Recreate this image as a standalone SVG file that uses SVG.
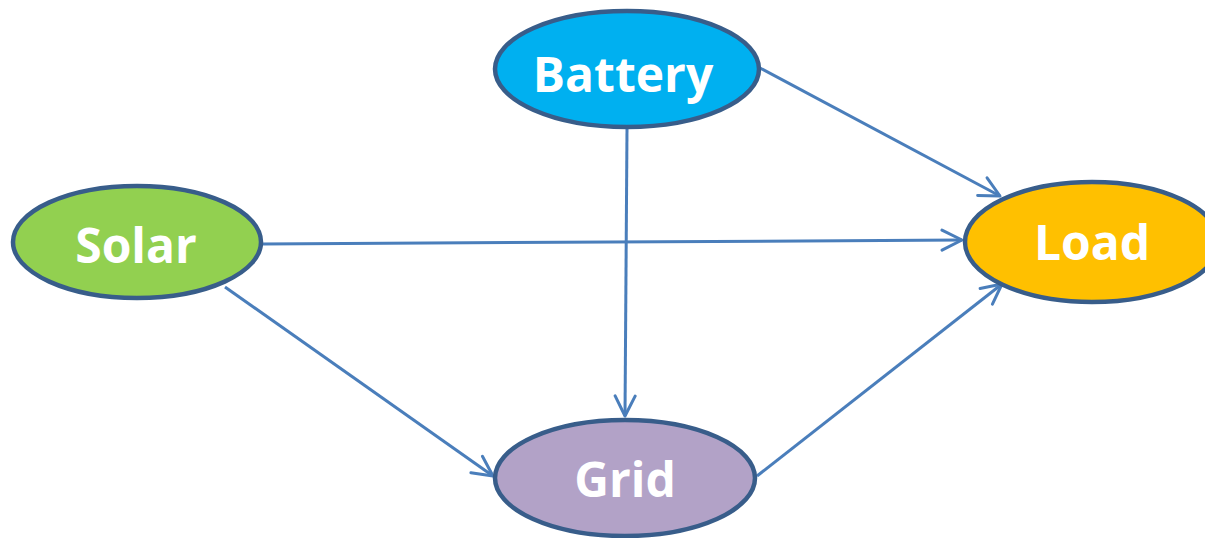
<svg xmlns="http://www.w3.org/2000/svg" width="1205" height="538" viewBox="0 0 1205 538">
<style>
.node{stroke:#385d8a;stroke-width:4.5}
.lbl{font-family:"Open Sans","Noto Sans",sans-serif;font-weight:bold;font-size:48px;fill:#ffffff;text-anchor:middle}
.conn{stroke:#4a7ebb;stroke-width:3;fill:none}
</style>
<defs>
<marker id="arr" viewBox="0 0 24 24" refX="22" refY="12" markerWidth="24" markerHeight="24" markerUnits="userSpaceOnUse" orient="auto">
<path d="M2,2 L22,12 L2,22" fill="none" stroke="#4a7ebb" stroke-width="3" stroke-linecap="round" stroke-linejoin="round"/>
</marker>
</defs>
<g id="connectors">
<line class="conn" x1="760" y1="68" x2="1000" y2="196" marker-end="url(#arr)"/>
<line class="conn" x1="262" y1="244" x2="962" y2="240" marker-end="url(#arr)"/>
<line class="conn" x1="627" y1="129" x2="625" y2="416" marker-end="url(#arr)"/>
<line class="conn" x1="225" y1="287" x2="493" y2="476" marker-end="url(#arr)"/>
<line class="conn" x1="757" y1="476" x2="1002" y2="284" marker-end="url(#arr)"/>
</g>
<g id="battery">
<ellipse class="node" cx="627" cy="69" rx="132" ry="58" fill="#00b0f0"/>
<text class="lbl" x="623" y="92">Battery</text>
</g>
<g id="solar">
<ellipse class="node" cx="137" cy="242" rx="124" ry="56" fill="#92d050"/>
<text class="lbl" x="136" y="263">Solar</text>
</g>
<g id="load">
<ellipse class="node" cx="1092" cy="242" rx="127" ry="60" fill="#ffc000"/>
<text class="lbl" x="1092" y="260">Load</text>
</g>
<g id="grid">
<ellipse class="node" cx="625" cy="478" rx="130" ry="58" fill="#b2a2c7"/>
<text class="lbl" x="625" y="497">Grid</text>
</g>
</svg>
